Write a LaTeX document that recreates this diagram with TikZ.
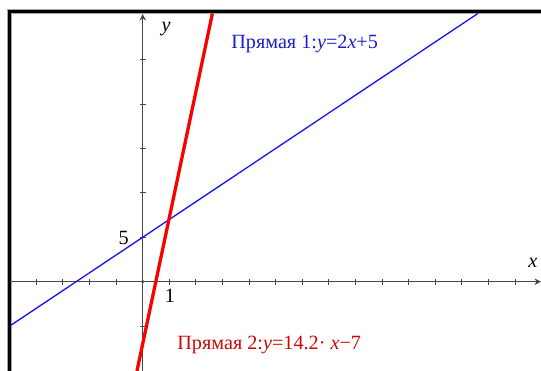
\documentclass[tikz,border=0pt]{standalone}
\usepackage{fontspec}
\setmainfont{Liberation Serif}
\usepackage{xcolor}
\usetikzlibrary{arrows.meta}
\definecolor{linecolorA}{RGB}{20,20,235}
\definecolor{textcolorA}{RGB}{30,30,200}
\definecolor{linecolorB}{RGB}{250,0,0}
\definecolor{textcolorB}{RGB}{200,10,10}
\definecolor{axiscolor}{RGB}{70,70,70}

\begin{document}
\begin{tikzpicture}[x=0.532cm, y=0.1776cm, font=\fontsize{11.5}{13.5}\selectfont,
  axis/.style={axiscolor, line width=0.026cm},
  tick/.style={axiscolor, line width=0.02cm},
  lbl/.style={inner sep=0pt}]
  % picture size = 541 x 371 px
  \useasboundingbox (-5.365,-10.06) rectangle (14.974,31.72);
  \fill[white] (-5.365,-10.06) rectangle (14.974,31.72);

  % Frame (window border)
  \draw[gray!70, line width=0.1cm, line join=miter]
    (-5.015,-10.5) -- (-5.015,30.45) -- (15.5,30.45);
  \draw[black, line width=0.068cm, line join=miter]
    (-5.015,-10.5) -- (-5.015,30.45) -- (15.5,30.45);

  % Ticks
  \foreach \x in {-4,...,-1,1,2,...,14}
    \draw[tick] (\x,-0.34) -- (\x,0.34);
  \foreach \y in {-5,5,10,15,20,25}
    \draw[tick] (-0.11,\y) -- (0.11,\y);

  % Axes
  \draw[axis, -{Stealth[length=0.13cm, width=0.13cm]}] (-4.98,0) -- (14.974,0);
  \draw[axis, -{Stealth[length=0.13cm, width=0.13cm]}] (0,-10.1) -- (0,30.15);
  \fill[axiscolor] (0,0) circle (0.035cm);

  % Axis labels
  \node[lbl] (xlabel) at (14.67,2.1) {\textit{x}};
  \node[lbl] (ylabel) at (0.876,28.4) {\textit{y}};
  \node[lbl] (five) at (-0.72,4.92) {5};
  \node[lbl] (one) at (1.02,-1.61) {1};

  % Lines
  \begin{scope}
    \clip (-4.98,-10.06) rectangle (14.974,30.2);
    \draw[linecolorA, line width=0.026cm] (-5,-5) -- (12.6,30.2);
    \draw[linecolorB, line width=0.066cm] (-0.2155,-10.06) -- (2.62,30.2);
  \end{scope}

  % Line names
  \node[lbl, anchor=base west, textcolorA] (nameA) at (3.32,26.28)
    {Прямая 1:\textit{y}=2\textit{x}+5};
  \node[lbl, anchor=base west, textcolorB] (nameB) at (1.29,-7.69)
    {Прямая 2:\textit{y}=14.2· \textit{x}−7};
\end{tikzpicture}
\end{document}
